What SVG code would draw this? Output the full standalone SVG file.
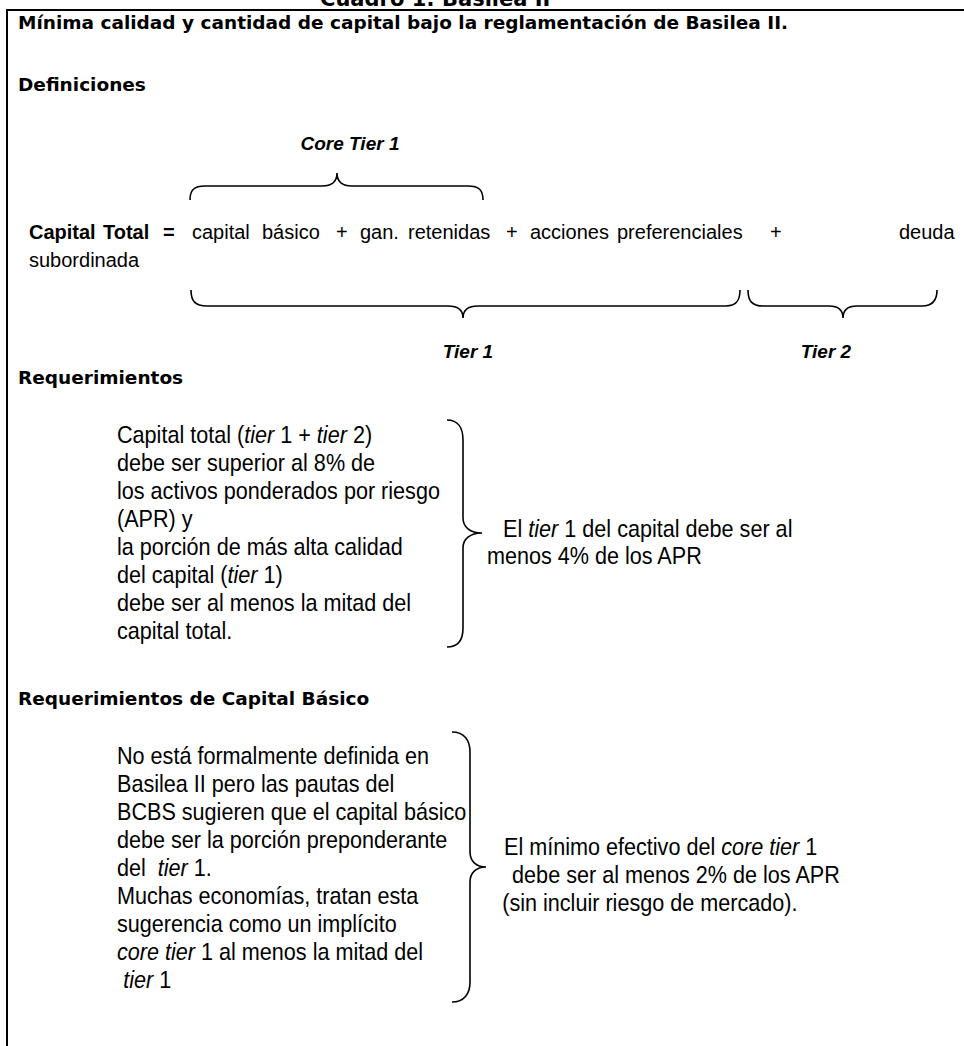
<svg xmlns="http://www.w3.org/2000/svg" width="964" height="1046" viewBox="0 0 964 1046">
<style>
.h{font-family:"DejaVu Sans","Liberation Sans",sans-serif;font-weight:bold;font-size:18.5px;fill:#000}
.eq{font-family:"Liberation Sans",Arial,sans-serif;font-size:20px;fill:#000}
.eb{font-weight:bold}
.t{font-family:"Liberation Sans",Arial,sans-serif;font-size:24px;fill:#000}
.bi{font-family:"Liberation Sans",Arial,sans-serif;font-weight:bold;font-style:italic;font-size:19px;fill:#000}
.i{font-style:italic}
.br{fill:none;stroke:#000;stroke-width:1.6}
.frame{fill:none;stroke:#000;stroke-width:2}
</style>
<rect width="964" height="1046" fill="#fff"/>
<g id="frame">
<path class="frame" d="M7,1046 V10 H964"/>
<text class="h" x="320" y="6" style="font-size:21px">Cuadro 1: Basilea II</text>
</g>
<g id="title">
<text class="h" x="18" y="29">Mínima calidad y cantidad de capital bajo la reglamentación de Basilea II.</text>
</g>
<g id="definiciones">
<text class="h" x="18" y="91">Definiciones</text>
</g>
<g id="core-tier-1">
<text class="bi" x="350" y="150" text-anchor="middle">Core Tier 1</text>
</g>
<g id="ecuacion">
<text class="eq" y="239"><tspan class="eb" x="29">Capital</tspan><tspan class="eb" x="103">Total</tspan><tspan class="eb" x="163">=</tspan><tspan x="192">capital</tspan><tspan x="262">básico</tspan><tspan x="336">+</tspan><tspan x="360">gan.</tspan><tspan x="408">retenidas</tspan><tspan x="506">+</tspan><tspan x="530">acciones</tspan><tspan x="617">preferenciales</tspan><tspan x="770">+</tspan><tspan x="899">deuda</tspan></text>
<text class="eq" x="29" y="267">subordinada</text>
</g>
<g id="tier-1">
<text class="bi" x="468" y="358" text-anchor="middle">Tier 1</text>
</g>
<g id="tier-2">
<text class="bi" x="826" y="358" text-anchor="middle">Tier 2</text>
</g>
<g id="requerimientos">
<text class="h" x="18" y="384">Requerimientos</text>
<g transform="scale(0.9 1)">
<text class="t" x="130" y="443">Capital total (<tspan class="i">tier</tspan> 1 + <tspan class="i">tier</tspan> 2)</text>
<text class="t" x="130" y="471">debe ser superior al 8% de</text>
<text class="t" x="130" y="499">los activos ponderados por riesgo</text>
<text class="t" x="130" y="527">(APR) y</text>
<text class="t" x="130" y="555">la porción de más alta calidad</text>
<text class="t" x="130" y="583">del capital (<tspan class="i">tier</tspan> 1)</text>
<text class="t" x="130" y="611">debe ser al menos la mitad del</text>
<text class="t" x="130" y="639">capital total.</text>
</g>
</g>
<g id="resultado-1" transform="scale(0.9 1)">
<text class="t" x="559" y="537">El <tspan class="i">tier</tspan> 1 del capital debe ser al</text>
<text class="t" x="541" y="564">menos 4% de los APR</text>
</g>
<g id="requerimientos-basico">
<text class="h" x="18" y="705">Requerimientos de Capital Básico</text>
<g transform="scale(0.9 1)">
<text class="t" x="130" y="764">No está formalmente definida en</text>
<text class="t" x="130" y="792">Basilea II pero las pautas del</text>
<text class="t" x="130" y="820">BCBS sugieren que el capital básico</text>
<text class="t" x="130" y="848">debe ser la porción preponderante</text>
<text class="t" x="130" y="876" xml:space="preserve">del  <tspan class="i">tier</tspan> 1.</text>
<text class="t" x="130" y="904">Muchas economías, tratan esta</text>
<text class="t" x="130" y="932">sugerencia como un implícito</text>
<text class="t" x="130" y="960"><tspan class="i">core tier</tspan> 1 al menos la mitad del</text>
<text class="t" x="137" y="988"><tspan class="i">tier</tspan> 1</text>
</g>
</g>
<g id="resultado-2" transform="scale(0.9 1)">
<text class="t" x="560" y="855">El mínimo efectivo del <tspan class="i">core tier</tspan> 1</text>
<text class="t" x="569" y="883">debe ser al menos 2% de los APR</text>
<text class="t" x="558" y="911">(sin incluir riesgo de mercado).</text>
</g>
<g id="conectores">
<path class="br" d="M190,200 C190,190 194,186 205,186 L322,186 C332,186 337,182 337,173 C337,182 342,186 352,186 L468,186 C479,186 483,190 483,200"/>
<path class="br" d="M191,290 C191,301 195,306 207,306 L448,306 C458,306 463,310 463,318 C463,310 468,306 478,306 L726,306 C736,306 740,301 740,290"/>
<path class="br" d="M748,290 C748,301 752,306 763,306 L829,306 C839,306 843,310 843,318 C843,310 847,306 857,306 L922,306 C932,306 937,301 937,290"/>
<path class="br" d="M447,420 C458,420 463,428 463,440 L463,518 C463,527 470,533 482,533 C470,533 463,539 463,548 L463,628 C463,640 458,647 447,647"/>
<path class="br" d="M452,732 C464,732 470,740 470,752 L470,852 C470,861 476,867 486,867 C476,867 470,873 470,882 L470,982 C470,994 464,1002 452,1002"/>
</g>
</svg>
